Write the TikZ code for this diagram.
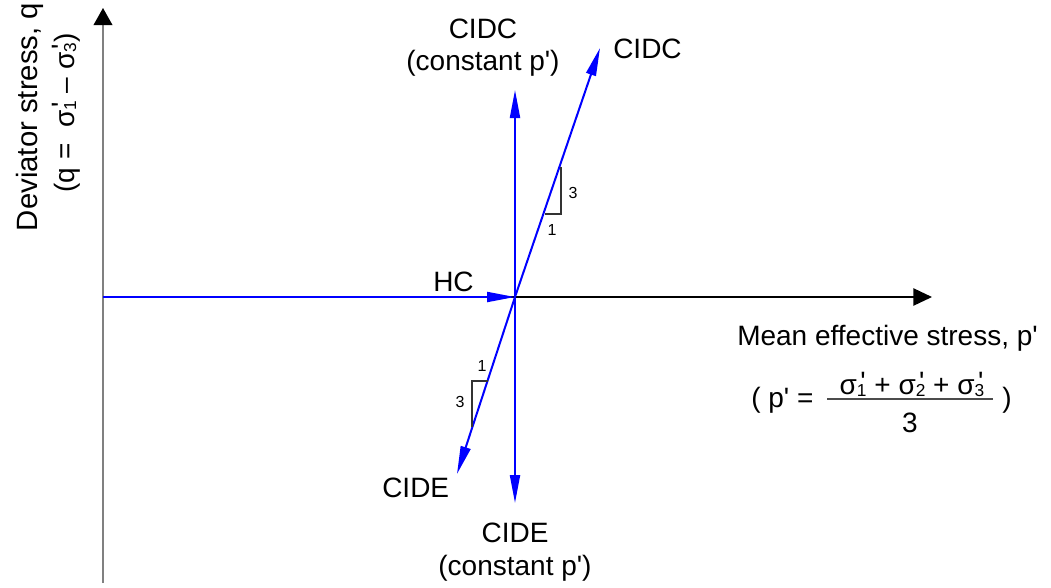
\documentclass[tikz,border=0pt]{standalone}
\usepackage{fontspec}
\setmainfont{Liberation Sans}
\usetikzlibrary{arrows.meta}
\newcommand{\pr}{\textquotesingle}
\newcommand{\sgp}[1]{σ\rlap{\hspace{0.12em}\raisebox{0.1em}{\pr}}\raisebox{-0.08em}{\fontsize{13}{14}\selectfont #1}}
\definecolor{pureblue}{RGB}{0,0,255}
\tikzset{
  lbl/.style={inner sep=0pt, font=\fontsize{21}{25}\selectfont},
  small/.style={inner sep=0pt, font=\fontsize{12}{14}\selectfont},
  blueline/.style={draw=pureblue, line width=1.5pt,
    -{Triangle[length=21pt,width=7.5pt,color=pureblue]}},
  axis/.style={line width=1.1pt},
  tri/.style={draw=black!80, line width=0.8pt},
}
\begin{document}
\begin{tikzpicture}[x=0.75pt,y=-0.75pt]
\useasboundingbox (0,0) rectangle (1051,587);
% coordinates
\coordinate (O) at (515,297);
\coordinate (Ybot) at (103,583);
\coordinate (Ytop) at (103,8);
\coordinate (Xl) at (103,297);
\coordinate (Xr) at (932,297);
\coordinate (Up) at (515,90);
\coordinate (Dn) at (515,503);
\coordinate (SlUp) at (600,48);
\coordinate (SlDn) at (457,474);
\coordinate (T1a) at (545,214);
\coordinate (T1b) at (561,214);
\coordinate (T1c) at (561,167);
\coordinate (T2a) at (488,381);
\coordinate (T2b) at (472,381);
\coordinate (T2c) at (472,427);
% axes
\draw[axis, draw=black!50, -{Triangle[length=12.75pt,width=14pt,color=black]}] (Ybot) -- (Ytop);
\draw[axis, draw=black, -{Triangle[length=14pt,width=13pt,color=black]}] (Xl) -- (Xr);
% stress paths
\draw[blueline] (Xl) -- (O);
\draw[blueline] (O) -- (Up);
\draw[blueline] (O) -- (Dn);
\draw[blueline] (O) -- (SlUp);
\draw[blueline] (O) -- (SlDn);
% slope triangles
\draw[tri] (T1a) -- (T1b) -- (T1c);
\draw[tri] (T2a) -- (T2b) -- (T2c);
\node[small] (t1three) at (573,193) {3};
\node[small] (t1one) at (552,230) {1};
\node[small] (t2one) at (482,366) {1};
\node[small] (t2three) at (460,402) {3};
% labels
\node[lbl, anchor=base, rotate=90, font=\fontsize{22}{26}\selectfont] (ylab1) at (37,117) {Deviator stress, q};
\node[lbl, anchor=base, rotate=90] (ylab2) at (74,113) {(q =\ \ \sgp{1} – \sgp{3})};
\node[lbl, anchor=base] (cidcA) at (483,38) {CIDC};
\node[lbl, anchor=base] (cidcB) at (483,70) {(constant p\pr)};
\node[lbl, anchor=base west] (cidc) at (613,58) {CIDC};
\node[lbl, anchor=base west] (hc) at (433,291) {HC};
\node[lbl, anchor=base west] (cide) at (382,497) {CIDE};
\node[lbl, anchor=base] (cideA) at (515,542) {CIDE};
\node[lbl, anchor=base] (cideB) at (515,575) {(constant p\pr)};
\node[lbl, anchor=base west] (xlab) at (737,345) {Mean effective stress, p\pr};
\node[lbl, anchor=base west] (peq) at (751,407) {( p\pr\ =};
\node[lbl, anchor=base] (num) at (912,394) {\sgp{1} + \sgp{2} + \sgp{3}};
\coordinate (barL) at (827,399);
\coordinate (barR) at (993,399);
\draw[line width=0.8pt, draw=black!70] (barL) -- (barR);
\node[lbl, anchor=base] (den) at (910,432) {3};
\node[lbl, anchor=base west] (rpar) at (1002,407) {)};
\end{tikzpicture}
\end{document}
